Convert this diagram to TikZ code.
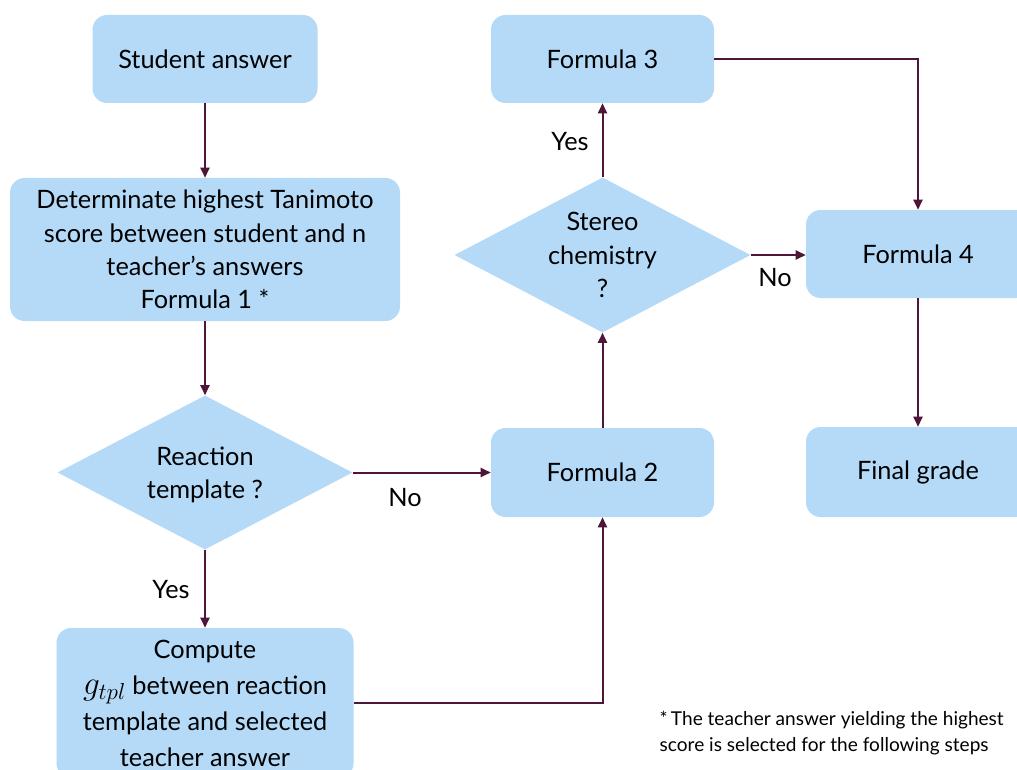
\documentclass[tikz,border=0pt]{standalone}
\usepackage{fontspec}
\setmainfont{Lato}
\usetikzlibrary{shapes.geometric,arrows.meta}
\definecolor{boxblue}{RGB}{180,218,248}
\definecolor{arrowc}{RGB}{78,22,56}
\newdimen\pxu \pxu=0.75pt
\begin{document}
\begin{tikzpicture}[x=0.75pt,y=-0.75pt,
  box/.style={fill=boxblue, rounded corners=11pt, align=center, inner sep=0pt, font=\fontsize{19}{25}\selectfont},
  dia/.style={diamond, fill=boxblue, inner sep=0pt},
  lbl/.style={font=\fontsize{19}{25}\selectfont, align=center},
  arr/.style={draw=arrowc, line width=1.5pt, -{Triangle[length=7.5pt,width=6.75pt]}}]
\useasboundingbox (0,0) rectangle (1017,770);
\clip (0,0) rectangle (1017,770);
\fill[white] (0,0) rectangle (1017,770);
% nodes
\node[box, minimum width=225\pxu, minimum height=88\pxu] (sa) at (205,59) {Student answer};
\node[box, minimum width=390\pxu, minimum height=143\pxu] (det) at (205,249.5) {Determinate highest Tanimoto\\score between student and n\\teacher’s answers\\Formula 1 *};
\node[dia, minimum width=295\pxu, minimum height=154\pxu] (rt) at (205,472.5) {};
\node[lbl] (rtt) at (205,475) {Reaction\\template ?};
\node[box, minimum width=297\pxu, minimum height=150\pxu, font=\fontsize{19}{27}\selectfont] (cmp) at (205,703) {Compute\\{\fontsize{24}{27}\selectfont$g_{tpl}$} between reaction\\template and selected\\teacher answer};
\node[box, minimum width=223\pxu, minimum height=89\pxu] (f2) at (602.5,472.5) {Formula 2};
\node[dia, minimum width=296\pxu, minimum height=155\pxu] (st) at (602.5,255) {};
\node[lbl] (stt) at (st) {Stereo\\chemistry\\?};
\node[box, minimum width=223\pxu, minimum height=88\pxu] (f3) at (602.5,59) {Formula 3};
\node[box, minimum width=224\pxu, minimum height=88\pxu] (f4) at (918,254) {Formula 4};
\node[box, minimum width=224\pxu, minimum height=90\pxu] (fg) at (918,472) {Final grade};
% connectors
\draw[arr] (sa.south) -- (det.north);
\draw[arr] (det.south) -- (rt.north);
\draw[arr] (rt.east) -- (f2.west);
\draw[arr] (rt.south) -- (cmp.north);
\draw[arr] (cmp.east) -- (f2.south |- cmp.east) -- (f2.south);
\draw[arr] (f2.north) -- (st.south);
\draw[arr] (st.north) -- (f3.south);
\draw[arr] (st.east) -- (st.east -| f4.west);
\draw[arr] (f3.east) -| (f4.north);
\draw[arr] (f4.south) -- (fg.north);
% labels
\node[lbl] (no1) at (405,498) {No};
\node[lbl] (yes1) at (171,590) {Yes};
\node[lbl] (yes2) at (570,142) {Yes};
\node[lbl] (no2) at (775,278) {No};
\node[align=left, anchor=west, font=\fontsize{14.3}{19.5}\selectfont] (fn) at (655,733) {*\,The teacher answer yielding the highest\\score is selected for the following steps};
\end{tikzpicture}
\end{document}
